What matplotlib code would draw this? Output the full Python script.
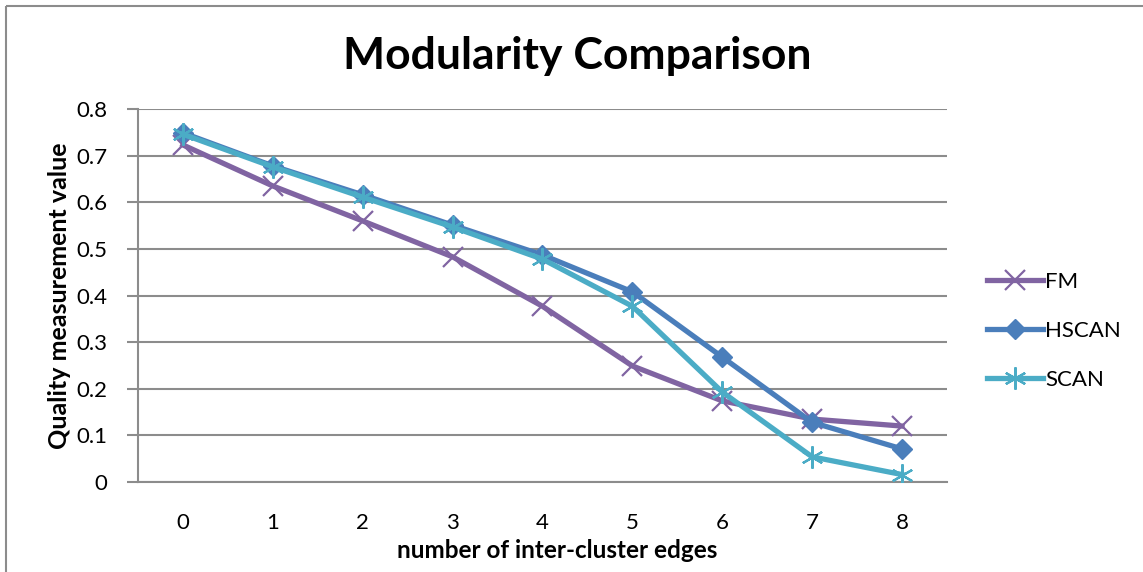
import matplotlib
matplotlib.use('Agg')
import matplotlib.pyplot as plt
from matplotlib.lines import Line2D

plt.rcParams['font.family'] = ['Lato', 'DejaVu Sans']

edges = [0, 1, 2, 3, 4, 5, 6, 7, 8]
fm = [0.723, 0.635, 0.560, 0.483, 0.377, 0.249, 0.174, 0.135, 0.120]
hscan = [0.749, 0.678, 0.616, 0.551, 0.487, 0.408, 0.268, 0.128, 0.071]
scan = [0.746, 0.676, 0.611, 0.547, 0.478, 0.377, 0.193, 0.054, 0.016]
yticks = [0, 0.1, 0.2, 0.3, 0.4, 0.5, 0.6, 0.7, 0.8]
ytick_labels = ['0', '0.1', '0.2', '0.3', '0.4', '0.5', '0.6', '0.7', '0.8']

fig = plt.figure(figsize=(11.43, 5.72), dpi=100)
ax = fig.add_axes([0.1207, 0.1573, 0.7078, 0.6521])

# chart border, only top and left visible in the reference
bx, by = 6 / 1143, 1 - 6 / 572
fig.lines.append(Line2D([bx, 1.02], [by, by], transform=fig.transFigure,
                        color='#8c8c8c', linewidth=1.5, solid_capstyle='butt'))
fig.lines.append(Line2D([bx, bx], [-0.02, by], transform=fig.transFigure,
                        color='#8c8c8c', linewidth=1.5, solid_capstyle='butt'))

ax.plot(edges, fm, color='#8064A2', linewidth=3.8, marker='x', markersize=14,
        markeredgewidth=1.6, label='FM', zorder=3)
ax.plot(edges, hscan, color='#4A7EBB', linewidth=3.8, marker='D', markersize=10,
        label='HSCAN', zorder=4)
ax.plot(edges, scan, color='#4BACC6', linewidth=3.8, marker=(6, 2, 0), markersize=16,
        markeredgewidth=1.6, label='SCAN', zorder=5)

ax.set_xlim(-0.5, 8.5)
ax.set_ylim(0, 0.8)
ax.set_xticks(edges)
ax.set_xticklabels([str(e) for e in edges], fontsize=16)
ax.set_yticks(yticks)
ax.set_yticklabels(ytick_labels, fontsize=16)
ax.tick_params(axis='x', length=0, pad=22)
ax.tick_params(axis='y', length=8, width=1.5, color='#8c8c8c', pad=14)
ax.grid(axis='y', color='#8c8c8c', linewidth=1.5)
ax.set_axisbelow(True)
for s in ['top', 'right']:
    ax.spines[s].set_visible(False)
for s in ['left', 'bottom']:
    ax.spines[s].set_color('#8c8c8c')
    ax.spines[s].set_linewidth(1.5)

ax.set_xlabel('number of inter-cluster edges', fontsize=17.5, fontweight='bold')
ax.xaxis.set_label_coords(0.518, -0.154)
ax.set_ylabel('Quality measurement value', fontsize=18, fontweight='bold', labelpad=4)
fig.text(0.505, 0.902, 'Modularity Comparison', fontsize=32, fontweight='bold',
         ha='center', va='center')

ax.legend(loc='center left', bbox_to_anchor=(1.025, 0.405), frameon=False, fontsize=16,
          handlelength=2.5, labelspacing=1.3, handletextpad=0.1)

fig.savefig('out.png', dpi=100)
